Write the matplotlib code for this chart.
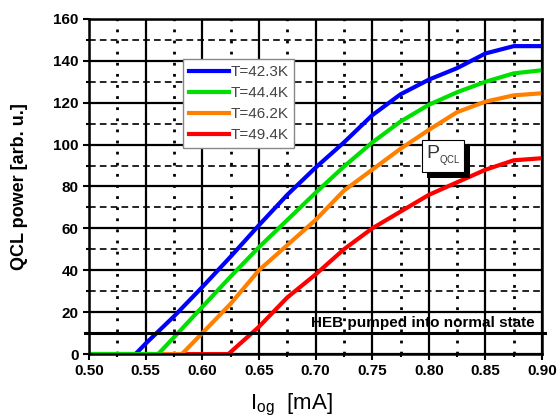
import matplotlib
matplotlib.use("Agg")
import matplotlib.pyplot as plt
import matplotlib.patheffects as pe
from matplotlib.ticker import MultipleLocator, FormatStrFormatter

plt.rcParams["font.family"] = ["Liberation Sans", "DejaVu Sans"]
plt.rcParams["mathtext.fontset"] = "custom"
plt.rcParams["mathtext.rm"] = "Liberation Sans"

# bias current [mA] and QCL power [arb. u.] for each temperature
x_423 = [0.50, 0.541, 0.55, 0.575, 0.60, 0.625, 0.65, 0.675, 0.70, 0.725, 0.75, 0.775, 0.80, 0.825, 0.85, 0.875, 0.90]
p_423 = [0, 0, 5, 18, 32, 46.5, 61.5, 76, 89, 101, 114, 124, 131, 136.5, 143.5, 147, 147]
x_444 = [0.50, 0.561, 0.575, 0.60, 0.625, 0.65, 0.675, 0.70, 0.725, 0.75, 0.775, 0.80, 0.825, 0.85, 0.875, 0.90]
p_444 = [0, 0, 8, 22.5, 37, 51, 64, 77, 89.5, 101, 111, 119, 125, 130, 134, 135.5]
x_462 = [0.50, 0.582, 0.60, 0.625, 0.65, 0.675, 0.70, 0.725, 0.75, 0.775, 0.80, 0.825, 0.85, 0.875, 0.90]
p_462 = [0, 0, 10, 24, 40, 52, 64, 78, 88, 98, 107, 115.5, 120.5, 123.5, 124.5]
x_494 = [0.50, 0.623, 0.65, 0.675, 0.70, 0.725, 0.75, 0.775, 0.80, 0.825, 0.85, 0.875, 0.90]
p_494 = [0, 0, 13, 27, 38, 50, 60, 68, 76, 82, 88, 92.5, 93.5]

heb_level = 10

fig = plt.figure(figsize=(5.6, 4.2), dpi=100)
ax = fig.add_axes([0.159, 0.157, 0.809, 0.798])

ax.set_xlim(0.50, 0.90)
ax.set_ylim(0, 160)
ax.xaxis.set_major_locator(MultipleLocator(0.05))
ax.xaxis.set_minor_locator(MultipleLocator(0.025))
ax.xaxis.set_major_formatter(FormatStrFormatter("%.2f"))
ax.yaxis.set_major_locator(MultipleLocator(20))
ax.yaxis.set_minor_locator(MultipleLocator(10))

ax.grid(which="major", color="black", lw=1.6, ls="-")
ax.xaxis.grid(which="minor", color="black", lw=2, ls=(0, (1, 3)))
ax.yaxis.grid(which="minor", color="black", lw=1.2, ls=(0, (4, 2.5)))
ax.set_axisbelow(True)

l1, = ax.plot(x_423, p_423, color="#0000ff", lw=3, label="T=42.3K")
l4, = ax.plot(x_494, p_494, color="#ff0000", lw=3, label="T=49.4K")
l3, = ax.plot(x_462, p_462, color="#ff8000", lw=3, label="T=46.2K")
l2, = ax.plot(x_444, p_444, color="#00e000", lw=3, label="T=44.4K")

ax.axhline(heb_level, xmin=-0.01, xmax=1.007, color="black", lw=2.2, clip_on=False)
ax.text(0.795, 15, "HEB pumped into normal state", ha="center", va="center",
        fontsize=11, fontweight="bold", color="black")

t = ax.text(0.8125, 94.5, r"P$_{_{\mathrm{QCL}}}$", ha="center", va="center",
            fontsize=14, color="#333333",
            bbox=dict(boxstyle="square,pad=0.2", fc="white", ec="black", lw=0.8))
t.get_bbox_patch().set_path_effects([
    pe.SimplePatchShadow(offset=(4, -4), shadow_rgbFace="black", alpha=1),
    pe.Normal()])

leg = ax.legend(handles=[l1, l2, l3, l4], loc="upper left",
                bbox_to_anchor=(0.207, 0.88), fancybox=False, framealpha=1,
                edgecolor="#888888", fontsize=11, handlelength=2.6,
                handletextpad=0.1, borderpad=0.4, labelspacing=0.45,
                borderaxespad=0)
for txt in leg.get_texts():
    txt.set_color("#444444")

for s in ax.spines.values():
    s.set_linewidth(1.8)

ax.tick_params(which="both", direction="out", width=1.5, labelsize=11)
ax.tick_params(which="major", length=4)
ax.tick_params(which="minor", length=2)
for lab in ax.get_xticklabels() + ax.get_yticklabels():
    lab.set_fontweight("heavy")

ax.set_ylabel("QCL power [arb. u.]", fontsize=13, fontweight="heavy", labelpad=18)
fig.text(0.52, 0.004, r"I$_{\mathrm{og}}$  [mA]", ha="center", va="bottom",
         fontsize=16)

fig.savefig("out.png", dpi=100)
